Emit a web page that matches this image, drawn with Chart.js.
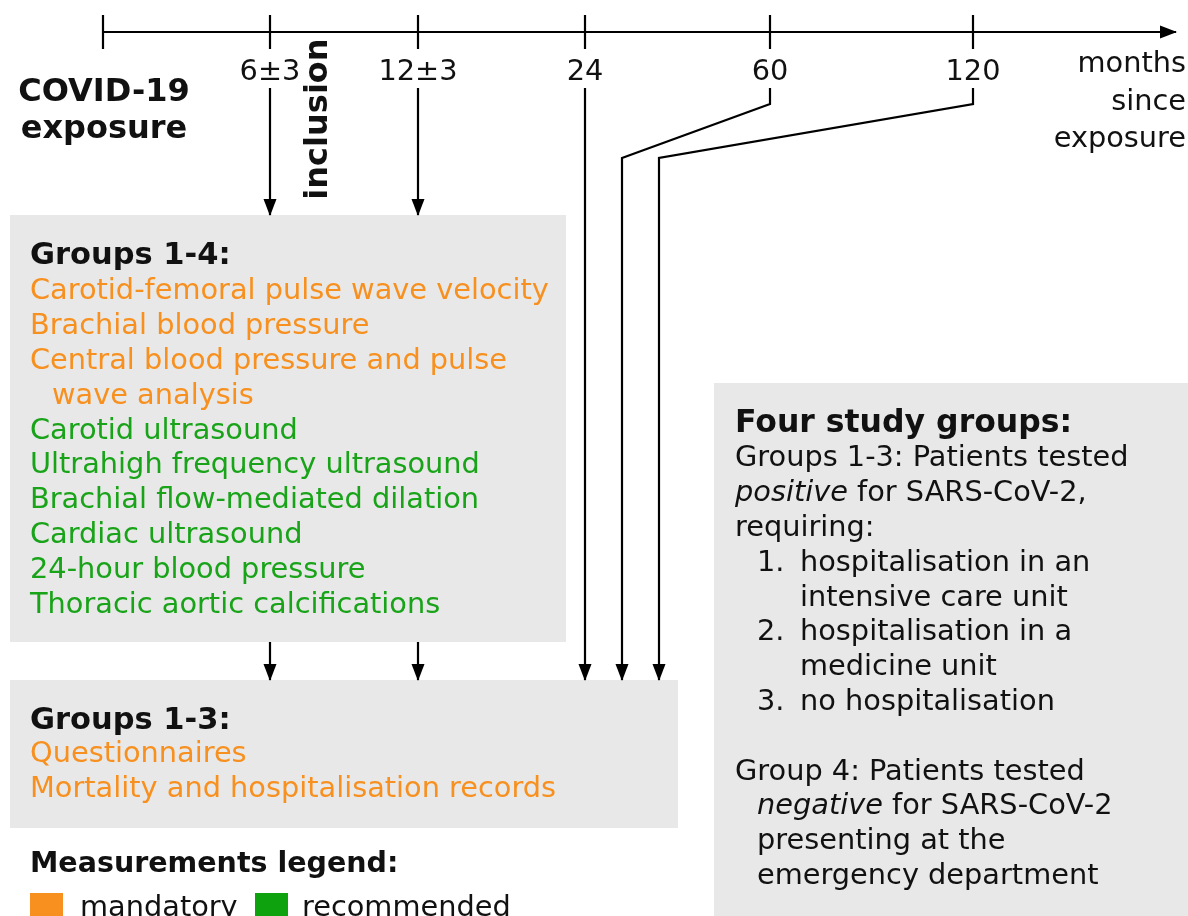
<!DOCTYPE html>
<html>
<head>
<meta charset="utf-8">
<script src="https://cdn.jsdelivr.net/npm/chart.js@4"></script>
<style>
  html, body { margin: 0; padding: 0; background: #fff; }
  #wrap { width: 1188px; height: 916px; overflow: hidden; }
</style>
</head>
<body>
<div id="wrap"><canvas id="chart" width="1188" height="916"></canvas></div>
<script>
// =======================
// DATA
// =======================
const timeLabels = ['6±3', '12±3', '24', '60', '120'];
const originLabel = ['COVID-19', 'exposure'];
const axisTitle = ['months', 'since', 'exposure'];
const inclusionLabel = 'inclusion';

const groups14Title = 'Groups 1-4:';
const groups14Items = [
  { text: 'Carotid-femoral pulse wave velocity', kind: 'mandatory' },
  { text: 'Brachial blood pressure', kind: 'mandatory' },
  { text: 'Central blood pressure and pulse', kind: 'mandatory' },
  { text: 'wave analysis', kind: 'mandatory', indent: true },
  { text: 'Carotid ultrasound', kind: 'recommended' },
  { text: 'Ultrahigh frequency ultrasound', kind: 'recommended' },
  { text: 'Brachial flow-mediated dilation', kind: 'recommended' },
  { text: 'Cardiac ultrasound', kind: 'recommended' },
  { text: '24-hour blood pressure', kind: 'recommended' },
  { text: 'Thoracic aortic calcifications', kind: 'recommended' }
];

const groups13Title = 'Groups 1-3:';
const groups13Items = [
  { text: 'Questionnaires', kind: 'mandatory' },
  { text: 'Mortality and hospitalisation records', kind: 'mandatory' }
];

const legendTitle = 'Measurements legend:';
const legendItems = ['mandatory', 'recommended'];

const studyTitle = 'Four study groups:';
// each line: list of [text, italic]
const studyLines = [
  { parts: [['Groups 1-3: Patients tested', false]], level: 0 },
  { parts: [['positive', true], [' for SARS-CoV-2,', false]], level: 0 },
  { parts: [['requiring:', false]], level: 0 },
  { num: '1.', parts: [['hospitalisation in an', false]], level: 2 },
  { parts: [['intensive care unit', false]], level: 2 },
  { num: '2.', parts: [['hospitalisation in a', false]], level: 2 },
  { parts: [['medicine unit', false]], level: 2 },
  { num: '3.', parts: [['no hospitalisation', false]], level: 2 },
  { parts: [], level: 0 },
  { parts: [['Group 4: Patients tested', false]], level: 0 },
  { parts: [['negative', true], [' for SARS-CoV-2', false]], level: 1 },
  { parts: [['presenting at the', false]], level: 1 },
  { parts: [['emergency department', false]], level: 1 }
];

// =======================
// LAYOUT / STYLE
// =======================
const COLORS = { mandatory: '#f7901e', recommended: '#18a318', box: '#e8e8e8', ink: '#111' };
const LEGEND_SWATCH = { mandatory: '#f7901e', recommended: '#0ea30e' };
const FONT = '"DejaVu Sans", Verdana, sans-serif';
const BODY = 28.8;
const TEXT_DY = 3;

const lineY = 32, axisStart = 103, axisEnd = 1180;
const tickX = [270, 418, 585, 770, 973];
const tickHalf = 17;

const box1 = { x0: 10, x1: 566, y0: 215, y1: 642 };
const box2 = { x0: 10, x1: 678, y0: 680, y1: 828 };
const box3 = { x0: 714, x1: 1188, y0: 383, y1: 916 };

// arrow paths (x, y in canvas units)
const arrowPaths = [
  [[tickX[0], 88], [tickX[0], box1.y0]],
  [[tickX[1], 88], [tickX[1], box1.y0]],
  [[tickX[0], box1.y1], [tickX[0], box2.y0]],
  [[tickX[1], box1.y1], [tickX[1], box2.y0]],
  [[tickX[2], 88], [tickX[2], box2.y0]],
  [[tickX[3], 88], [tickX[3], 104], [622, 158], [622, box2.y0]],
  [[tickX[4], 88], [tickX[4], 104], [659, 158], [659, box2.y0]]
];

// =======================
// DATASETS
// =======================
const datasets = [];
datasets.push({
  label: 'timeline',
  data: [{ x: axisStart, y: lineY }, { x: axisEnd - 4, y: lineY }],
  showLine: true, borderColor: '#000', borderWidth: 2.2, pointRadius: 0, arrow: true
});
datasets.push({
  label: 'ticks',
  data: [axisStart].concat(tickX).map(x => ({ x: x, y: lineY })),
  showLine: false, pointStyle: 'line', rotation: 90, radius: tickHalf,
  borderColor: '#000', borderWidth: 2.2
});
arrowPaths.forEach((p, i) => {
  datasets.push({
    label: 'arrow' + i,
    data: p.map(pt => ({ x: pt[0], y: pt[1] })),
    showLine: true, borderColor: '#000', borderWidth: 2.2, pointRadius: 0, arrow: true
  });
});

// =======================
// DRAW HELPERS
// =======================
function font(size, bold, italic) {
  return (italic ? 'italic ' : '') + (bold ? 'bold ' : '') + size + 'px ' + FONT;
}

const diagramPlugin = {
  id: 'diagram',
  beforeDatasetsDraw(chart) {
    const ctx = chart.ctx;
    const sx = chart.scales.x, sy = chart.scales.y;
    ctx.save();
    ctx.fillStyle = COLORS.box;
    [box1, box2, box3].forEach(b => {
      const x0 = sx.getPixelForValue(b.x0), x1 = sx.getPixelForValue(b.x1);
      const y0 = sy.getPixelForValue(b.y0), y1 = sy.getPixelForValue(b.y1);
      ctx.fillRect(x0, y0, x1 - x0, y1 - y0);
    });
    ctx.restore();
  },
  afterDatasetsDraw(chart) {
    const ctx = chart.ctx;
    const sx = chart.scales.x, sy = chart.scales.y;
    const X = v => sx.getPixelForValue(v);
    const Y = v => sy.getPixelForValue(v + TEXT_DY);

    // arrow heads
    ctx.save();
    ctx.fillStyle = '#000';
    chart.data.datasets.forEach((ds, i) => {
      if (!ds.arrow) return;
      const pts = chart.getDatasetMeta(i).data;
      const a = pts[pts.length - 2], b = pts[pts.length - 1];
      const ang = Math.atan2(b.y - a.y, b.x - a.x);
      const len = 16, half = 6.5;
      ctx.save();
      ctx.translate(b.x, b.y);
      ctx.rotate(ang);
      ctx.beginPath();
      ctx.moveTo(1, 0);
      ctx.lineTo(-len, -half);
      ctx.lineTo(-len, half);
      ctx.closePath();
      ctx.fill();
      ctx.restore();
    });
    ctx.restore();

    ctx.save();
    ctx.textBaseline = 'middle';
    ctx.fillStyle = COLORS.ink;

    // tick labels
    ctx.font = font(BODY, false);
    ctx.textAlign = 'center';
    timeLabels.forEach((t, i) => ctx.fillText(t, X(tickX[i]), Y(70)));

    // origin label
    ctx.font = font(32, true);
    originLabel.forEach((t, i) => ctx.fillText(t, X(104), Y(90 + i * 37)));

    // axis title
    ctx.font = font(BODY, false);
    ctx.textAlign = 'right';
    axisTitle.forEach((t, i) => ctx.fillText(t, X(1186), Y(62 + i * 37.5)));

    // inclusion (rotated)
    ctx.save();
    ctx.translate(X(319), sy.getPixelForValue(119));
    ctx.rotate(-Math.PI / 2);
    ctx.textAlign = 'center';
    ctx.font = font(32, true);
    ctx.fillText(inclusionLabel, 0, 0);
    ctx.restore();

    ctx.textAlign = 'left';
    const step = 34.8;

    // box 1
    ctx.font = font(30.5, true);
    ctx.fillStyle = COLORS.ink;
    ctx.fillText(groups14Title, X(30), Y(253));
    ctx.font = font(BODY, false);
    groups14Items.forEach((it, i) => {
      ctx.fillStyle = COLORS[it.kind];
      ctx.fillText(it.text, X(it.indent ? 52 : 30), Y(289 + i * step));
    });

    // box 2
    ctx.font = font(30.5, true);
    ctx.fillStyle = COLORS.ink;
    ctx.fillText(groups13Title, X(30), Y(718));
    ctx.font = font(BODY, false);
    groups13Items.forEach((it, i) => {
      ctx.fillStyle = COLORS[it.kind];
      ctx.fillText(it.text, X(30), Y(752 + i * step));
    });

    // legend
    ctx.font = font(28.5, true);
    ctx.fillStyle = COLORS.ink;
    ctx.fillText(legendTitle, X(30), Y(862));
    const swX = [30, 255], txX = [80, 302];
    legendItems.forEach((name, i) => {
      ctx.fillStyle = LEGEND_SWATCH[name];
      ctx.fillRect(X(swX[i]), sy.getPixelForValue(893), 33, 30);
      ctx.fillStyle = COLORS.ink;
      ctx.font = font(BODY, false);
      ctx.fillText(name, X(txX[i]), Y(906));
    });

    // box 3
    ctx.font = font(31.5, true);
    ctx.fillText(studyTitle, X(735), Y(421));
    const lvlX = [735, 757, 800];
    studyLines.forEach((ln, i) => {
      const y = Y(456 + i * step);
      if (ln.num) {
        ctx.font = font(BODY, false);
        ctx.fillText(ln.num, X(757), y);
      }
      let x = X(lvlX[ln.level]);
      ln.parts.forEach(p => {
        ctx.font = font(BODY, false, p[1]);
        ctx.fillText(p[0], x, y);
        x += ctx.measureText(p[0]).width;
      });
    });
    ctx.restore();
  }
};

// =======================
// CHART
// =======================
new Chart(document.getElementById('chart'), {
  type: 'scatter',
  data: { datasets: datasets },
  options: {
    responsive: false,
    animation: false,
    devicePixelRatio: 1,
    layout: { padding: 0, autoPadding: false },
    plugins: { legend: { display: false }, tooltip: { enabled: false } },
    scales: {
      x: { type: 'linear', min: 0, max: 1188, display: false },
      y: { type: 'linear', min: 0, max: 916, reverse: true, display: false }
    }
  },
  plugins: [diagramPlugin]
});
</script>
</body>
</html>
